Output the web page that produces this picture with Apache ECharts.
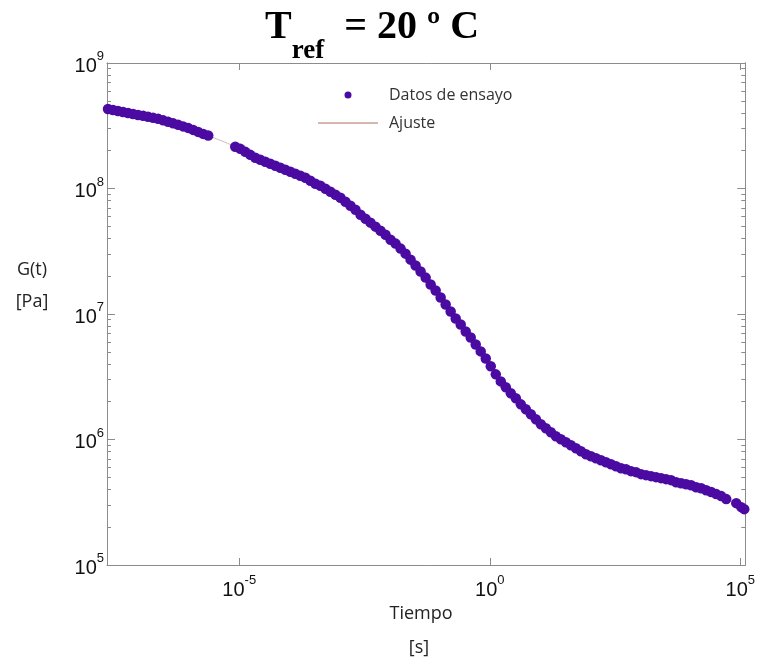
<!DOCTYPE html>
<html>
<head>
<meta charset="utf-8">
<title>Tref = 20 ºC</title>
<script src="https://cdn.jsdelivr.net/npm/echarts@6/dist/echarts.min.js"></script>
<style>
  html, body { margin: 0; padding: 0; background: #fff; }
  #chart { width: 758px; height: 661px; }
</style>
</head>
<body>
<div id="chart"></div>
<script>
// valores en exponentes: t = 10^logTime [s], G = 10^logModulus [Pa]

// datos de ensayo, tramo 1
var ensayo1LogTime = [-7.62, -7.52, -7.42, -7.32, -7.22, -7.12, -7.02, -6.92, -6.82, -6.72,
  -6.62, -6.52, -6.42, -6.32, -6.22, -6.12, -6.02, -5.92, -5.82, -5.72, -5.62]
var ensayo1LogModulus = [8.634, 8.626, 8.618, 8.610, 8.602, 8.594, 8.586, 8.579, 8.571, 8.563,
  8.555, 8.543, 8.531, 8.519, 8.507, 8.495, 8.483, 8.467, 8.451, 8.435, 8.423]

// datos de ensayo, tramo 2
var ensayo2LogTime = [-5.08, -4.98, -4.88, -4.78, -4.68, -4.58, -4.48, -4.38, -4.28, -4.18,
  -4.08, -3.98, -3.88, -3.78, -3.68, -3.58, -3.48, -3.38, -3.28, -3.18,
  -3.08, -2.98, -2.88, -2.78, -2.68, -2.58, -2.48, -2.38, -2.28, -2.18,
  -2.08, -1.98, -1.88, -1.78, -1.68, -1.58, -1.48, -1.38, -1.28, -1.18,
  -1.08, -0.98, -0.88, -0.78, -0.68, -0.58, -0.48, -0.38, -0.28, -0.18,
  -0.08, 0.02, 0.12, 0.22, 0.32, 0.42, 0.52, 0.62, 0.72, 0.82,
  0.92, 1.02, 1.12, 1.22, 1.32, 1.42, 1.52, 1.62, 1.72, 1.82,
  1.92, 2.02, 2.12, 2.22, 2.32, 2.42, 2.52, 2.62, 2.72, 2.82,
  2.92, 3.02, 3.12, 3.22, 3.32, 3.42, 3.52, 3.62, 3.72, 3.82,
  3.92, 4.02, 4.12, 4.22, 4.32, 4.42, 4.52, 4.62, 4.72]
var ensayo2LogModulus = [8.332, 8.316, 8.292, 8.268, 8.245, 8.229, 8.213, 8.197, 8.181, 8.165,
  8.149, 8.133, 8.117, 8.101, 8.085, 8.062, 8.038, 8.022, 7.998, 7.974,
  7.950, 7.926, 7.895, 7.863, 7.831, 7.791, 7.759, 7.728, 7.696, 7.664,
  7.632, 7.592, 7.561, 7.521, 7.481, 7.433, 7.386, 7.338, 7.290, 7.235,
  7.187, 7.131, 7.076, 7.020, 6.964, 6.916, 6.861, 6.813, 6.757, 6.702,
  6.646, 6.583, 6.519, 6.463, 6.416, 6.368, 6.328, 6.280, 6.241, 6.201,
  6.161, 6.121, 6.089, 6.058, 6.026, 6.002, 5.978, 5.954, 5.930, 5.907,
  5.883, 5.867, 5.851, 5.835, 5.819, 5.803, 5.787, 5.771, 5.763, 5.748,
  5.740, 5.724, 5.716, 5.708, 5.700, 5.692, 5.684, 5.676, 5.660, 5.652,
  5.644, 5.636, 5.620, 5.612, 5.596, 5.581, 5.565, 5.549, 5.525]

// datos de ensayo, tramo 3
var ensayo3LogTime = [4.92, 5.02, 5.08]
var ensayo3LogModulus = [5.493, 5.461, 5.445]

// curva de ajuste
var ajusteLogTime = [-7.62, -7.12, -6.62, -6.12, -5.62, -5.08, -4.58, -4.08, -3.58, -3.08,
  -2.58, -2.08, -1.58, -1.08, -0.58, -0.08, 0.42, 0.92, 1.42, 1.92,
  2.42, 2.92, 3.42, 3.92, 4.42, 4.72, 4.92, 5.1]
var ajusteLogModulus = [8.634, 8.594, 8.555, 8.507, 8.423, 8.332, 8.229, 8.149, 8.062, 7.950,
  7.791, 7.632, 7.433, 7.187, 6.916, 6.646, 6.368, 6.161, 6.002, 5.883,
  5.803, 5.740, 5.692, 5.644, 5.581, 5.525, 5.493, 5.44]

// ejes (exponentes)
var xTicks = [-5, 0, 5]
var yTicks = [5, 6, 7, 8, 9]
var minorFactors = [2, 3, 4, 5, 6, 7, 8, 9]

var yMinorTicks = []
yTicks.slice(0, -1).forEach(function (e) {
  minorFactors.forEach(function (k) { yMinorTicks.push(e + Math.log10(k)) })
})

function pairs (xs, ys) {
  return xs.map(function (x, i) { return [x, ys[i]] })
}
var ensayo = pairs(ensayo1LogTime, ensayo1LogModulus)
  .concat(pairs(ensayo2LogTime, ensayo2LogModulus))
  .concat(pairs(ensayo3LogTime, ensayo3LogModulus))
var ajuste = pairs(ajusteLogTime, ajusteLogModulus)

var axisGray = '#8c8c8c'
var powerRich = {
  b: { fontFamily: 'Liberation Sans', fontSize: 20, color: '#111', verticalAlign: 'bottom' },
  s: { fontFamily: 'Liberation Sans', fontSize: 13, color: '#111', verticalAlign: 'bottom', padding: [0, 0, 13, 0] }
}
function powerLabel (v) {
  return '{b|10}{s|' + Math.round(v) + '}'
}

function xAxisOf (position, showLabel) {
  return {
    type: 'value',
    min: -7.64,
    max: 5.1,
    position: position,
    axisLine: { show: true, onZero: false, lineStyle: { color: axisGray, width: 1 } },
    axisTick: { show: true, inside: true, length: 7, customValues: xTicks, lineStyle: { color: axisGray } },
    axisLabel: { show: showLabel, customValues: xTicks, formatter: powerLabel, rich: powerRich, margin: 9 },
    splitLine: { show: false }
  }
}
function yAxisOf (position, ticks, len, showLabel) {
  return {
    type: 'value',
    min: 5,
    max: 9,
    position: position,
    axisLine: { show: true, onZero: false, lineStyle: { color: axisGray, width: 1 } },
    axisTick: { show: true, inside: true, length: len, customValues: ticks, lineStyle: { color: axisGray } },
    axisLabel: { show: showLabel, customValues: yTicks, formatter: powerLabel, rich: powerRich, margin: 3 },
    splitLine: { show: false }
  }
}

var chart = echarts.init(document.getElementById('chart'))
chart.setOption({
  backgroundColor: '#fff',
  animation: false,
  title: {
    text: '{t|T}{r|ref}{t|  = 20 º C}',
    left: 367,
    top: 3,
    textAlign: 'center',
    textStyle: {
      rich: {
        t: { fontFamily: 'Liberation Serif', fontWeight: 'bold', fontSize: 40, color: '#000', verticalAlign: 'bottom', padding: [0, 0, 17, 0] },
        r: { fontFamily: 'Liberation Serif', fontWeight: 'bold', fontSize: 27, color: '#000', verticalAlign: 'bottom' }
      }
    }
  },
  legend: {
    data: ['Datos de ensayo', 'Ajuste'],
    orient: 'vertical',
    left: 312,
    top: 82,
    itemWidth: 60,
    itemHeight: 7,
    itemGap: 12,
    textStyle: { fontFamily: 'Open Sans', fontSize: 16, color: '#333', padding: [0, 0, 0, 6] }
  },
  grid: { left: 107, right: 11, top: 63, bottom: 96 },
  xAxis: [xAxisOf('bottom', true), xAxisOf('top', false)],
  yAxis: [
    yAxisOf('left', yTicks, 8, true),
    yAxisOf('right', yTicks, 8, false),
    yAxisOf('left', yMinorTicks, 4, false),
    yAxisOf('right', yMinorTicks, 4, false)
  ],
  graphic: [
    { type: 'text', x: 32, y: 270, style: { text: 'G(t)', font: '18px "Open Sans"', fill: '#222', align: 'center', verticalAlign: 'middle' } },
    { type: 'text', x: 32, y: 302, style: { text: '[Pa]', font: '18px "Open Sans"', fill: '#222', align: 'center', verticalAlign: 'middle' } },
    { type: 'text', x: 421, y: 614, style: { text: 'Tiempo', font: '18px "Open Sans"', fill: '#222', align: 'center', verticalAlign: 'middle' } },
    { type: 'text', x: 419, y: 648, style: { text: '[s]', font: '18px "Open Sans"', fill: '#222', align: 'center', verticalAlign: 'middle' } }
  ],
  series: [
    {
      name: 'Ajuste',
      type: 'line',
      xAxisIndex: 0,
      yAxisIndex: 0,
      data: ajuste,
      smooth: true,
      symbol: 'none',
      lineStyle: { color: '#d8b6b0', width: 1 },
      itemStyle: { color: 'rgba(0,0,0,0)' },
      z: 1
    },
    {
      name: 'Datos de ensayo',
      type: 'scatter',
      xAxisIndex: 0,
      yAxisIndex: 0,
      data: ensayo,
      symbol: 'circle',
      symbolSize: 10.5,
      itemStyle: { color: '#4b0aa2', opacity: 1 },
      z: 2
    }
  ]
})
</script>
</body>
</html>
